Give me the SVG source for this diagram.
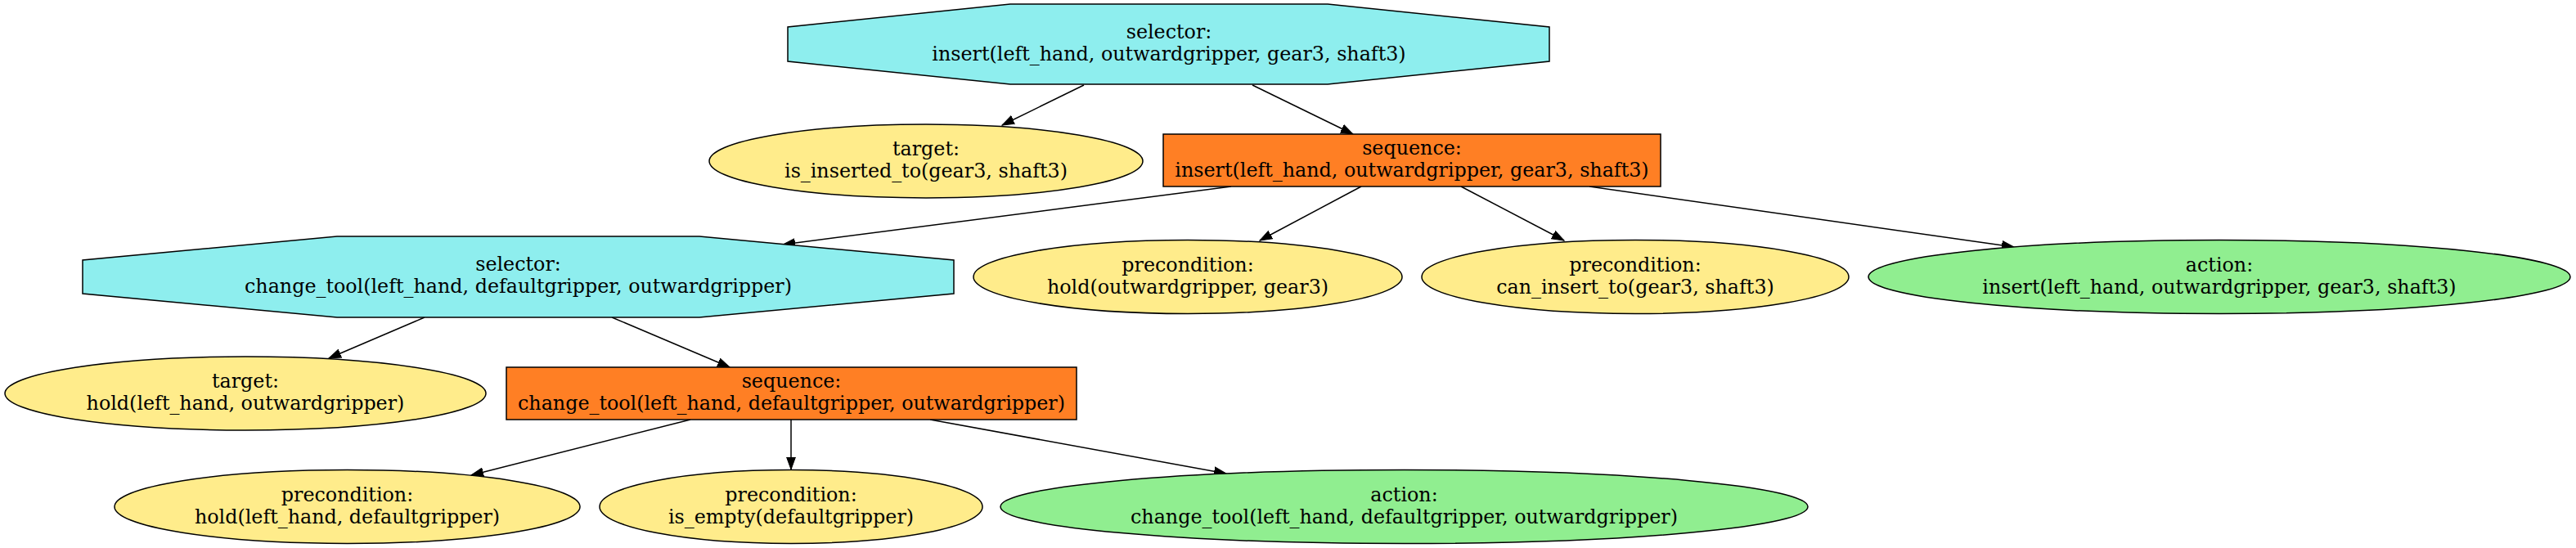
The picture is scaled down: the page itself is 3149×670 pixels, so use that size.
<svg xmlns="http://www.w3.org/2000/svg" width="3149" height="670" viewBox="0 0 3149 670">
<style>
  text { font-family: "DejaVu Serif", serif; font-size: 23.8px; text-anchor: middle; fill: #000; }
  .sel { fill: #8EEEEE; stroke: #000; stroke-width: 1.5; }
  .seq { fill: #FF7F24; stroke: #000; stroke-width: 1.5; }
  .cond { fill: #FFEC8B; stroke: #000; stroke-width: 1.5; }
  .act { fill: #90EE90; stroke: #000; stroke-width: 1.5; }
  .edge { fill: none; stroke: #000; stroke-width: 1.5; marker-end: url(#arrow); }
</style>
<defs>
  <marker id="arrow" markerUnits="userSpaceOnUse" markerWidth="16" markerHeight="12" refX="15" refY="6" orient="auto">
    <path d="M0,0.6 L15,6 L0,11.4 Z" fill="#000" stroke="#000" stroke-width="1"/>
  </marker>
</defs>
<rect width="3149" height="670" fill="#fff"/>
<g id="connectors">
  <path class="edge" d="M1325,104 L1225,153"/>
  <path class="edge" d="M1531,104 L1654,164"/>
  <path class="edge" d="M1505,228 L957,299"/>
  <path class="edge" d="M1664,228 L1540,294"/>
  <path class="edge" d="M1786,228 L1912,294"/>
  <path class="edge" d="M1943,228 L2462,302"/>
  <path class="edge" d="M519,388 L402,438"/>
  <path class="edge" d="M748,388 L892,449"/>
  <path class="edge" d="M844,513 L576,581"/>
  <path class="edge" d="M967,513 L967,574"/>
  <path class="edge" d="M1137,513 L1499,579"/>
</g>
<g id="selector_insert">
  <polygon class="sel" points="1623,5 1894,33 1894,75 1623,103 1235,103 963,75 963,33 1235,5"/>
  <text x="1429" y="47">selector:</text>
  <text x="1429" y="74">insert(left_hand, outwardgripper, gear3, shaft3)</text>
</g>
<g id="target_inserted">
  <ellipse class="cond" cx="1132" cy="197" rx="265" ry="45"/>
  <text x="1132" y="190">target:</text>
  <text x="1132" y="217">is_inserted_to(gear3, shaft3)</text>
</g>
<g id="sequence_insert">
  <rect class="seq" x="1422" y="164" width="608" height="64"/>
  <text x="1726" y="189">sequence:</text>
  <text x="1726" y="216">insert(left_hand, outwardgripper, gear3, shaft3)</text>
</g>
<g id="selector_change_tool">
  <polygon class="sel" points="855,289 1166,318 1166,359 855,388 412,388 101,359 101,318 412,289"/>
  <text x="633.5" y="331">selector:</text>
  <text x="633.5" y="358">change_tool(left_hand, defaultgripper, outwardgripper)</text>
</g>
<g id="precondition_hold_gear3">
  <ellipse class="cond" cx="1452" cy="338.5" rx="262" ry="45"/>
  <text x="1452" y="331.5">precondition:</text>
  <text x="1452" y="358.5">hold(outwardgripper, gear3)</text>
</g>
<g id="precondition_can_insert">
  <ellipse class="cond" cx="1999" cy="338.5" rx="261" ry="45"/>
  <text x="1999" y="331.5">precondition:</text>
  <text x="1999" y="358.5">can_insert_to(gear3, shaft3)</text>
</g>
<g id="action_insert">
  <ellipse class="act" cx="2713" cy="338.5" rx="429" ry="45"/>
  <text x="2713" y="331.5">action:</text>
  <text x="2713" y="358.5">insert(left_hand, outwardgripper, gear3, shaft3)</text>
</g>
<g id="target_hold">
  <ellipse class="cond" cx="300" cy="481" rx="294" ry="45"/>
  <text x="300" y="474">target:</text>
  <text x="300" y="501">hold(left_hand, outwardgripper)</text>
</g>
<g id="sequence_change_tool">
  <rect class="seq" x="619" y="449" width="697" height="64"/>
  <text x="967.5" y="474">sequence:</text>
  <text x="967.5" y="501">change_tool(left_hand, defaultgripper, outwardgripper)</text>
</g>
<g id="precondition_hold_default">
  <ellipse class="cond" cx="424.5" cy="619.5" rx="284.5" ry="45"/>
  <text x="424.5" y="612.5">precondition:</text>
  <text x="424.5" y="639.5">hold(left_hand, defaultgripper)</text>
</g>
<g id="precondition_is_empty">
  <ellipse class="cond" cx="967" cy="619.5" rx="234" ry="45"/>
  <text x="967" y="612.5">precondition:</text>
  <text x="967" y="639.5">is_empty(defaultgripper)</text>
</g>
<g id="action_change_tool">
  <ellipse class="act" cx="1716.5" cy="619.5" rx="493.5" ry="45"/>
  <text x="1716.5" y="612.5">action:</text>
  <text x="1716.5" y="639.5">change_tool(left_hand, defaultgripper, outwardgripper)</text>
</g>
</svg>
